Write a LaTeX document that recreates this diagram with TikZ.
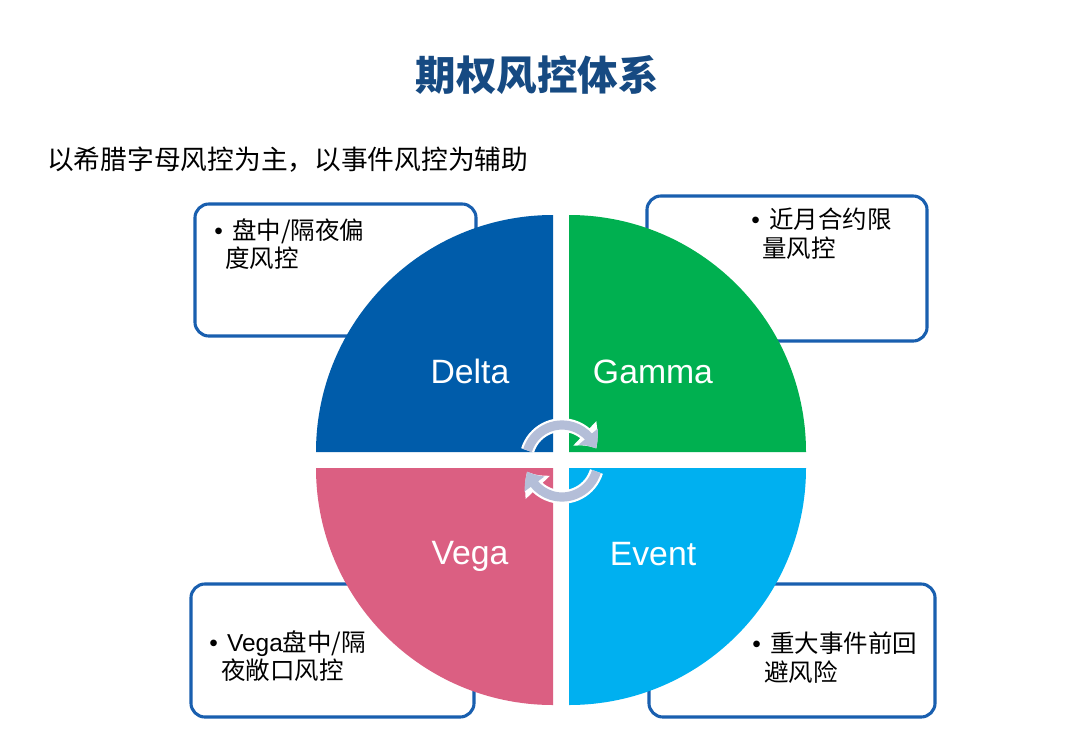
\documentclass[tikz,border=0pt]{standalone}
\usepackage{fontspec}
\setmainfont{Liberation Sans}
\newfontfamily\cjk{Noto Sans CJK SC}
\usepackage{tikz}
\usetikzlibrary{arrows.meta,bending}
\definecolor{titleblue}{RGB}{22,74,130}
\definecolor{boxblue}{RGB}{25,95,175}
\definecolor{deltablue}{RGB}{0,92,170}
\definecolor{gammagreen}{RGB}{0,176,80}
\definecolor{vegapink}{RGB}{219,95,130}
\definecolor{eventcyan}{RGB}{0,176,240}
\definecolor{cyclegray}{RGB}{180,190,216}
\newcommand\itembul{{\rmfamily\textbullet}\hspace{0.38em}}

\begin{document}
\begin{tikzpicture}[x=0.025cm,y=-0.025cm]
  % option risk control overview, pixel grid with y pointing down
  \tikzset{infobox/.style={draw=boxblue,line width=2.2pt,rounded corners=0.35cm,fill=white,inner sep=0pt},
    quadlbl/.style={text=white,inner sep=0pt,anchor=base,font=\fontsize{24}{28}\selectfont},
    itemtxt/.style={anchor=north west,inner sep=0pt,align=left,font=\cjk\fontsize{17.4}{20.5}\selectfont},
    cycwhite/.style={draw=white,line width=0.34cm,-{Triangle[width=0.8cm,length=0.48cm,bend]}},
    cycarrow/.style={draw=cyclegray,line width=0.23cm,-{Triangle[width=0.6cm,length=0.36cm,bend]}}}
  \useasboundingbox (0,0) rectangle (1080,737);
  \fill[white] (0,0) rectangle (1080,737);
  \node[font=\cjk\bfseries\fontsize{28.8}{32}\selectfont,text=titleblue] (title) at (537,75) {期权风控体系};
  \node[anchor=west,inner sep=0pt,font=\cjk\fontsize{19}{22}\selectfont] (subtitle) at (47,160) {以希腊字母风控为主，以事件风控为辅助};
  % the four text boxes sit behind the circle
  \node[infobox,minimum width=7.025cm,minimum height=3.3cm] (tlbox) at (335.5,270) {};
  \node[infobox,minimum width=7cm,minimum height=3.625cm] (trbox) at (787,268.5) {};
  \node[infobox,minimum width=7.075cm,minimum height=3.325cm] (blbox) at (332.5,650.5) {};
  \node[infobox,minimum width=7.15cm,minimum height=3.325cm] (brbox) at (792,650.5) {};
  \node[itemtxt] (tltxt) at (214,218) {\itembul 盘中/隔夜偏\\\hspace*{0.45em}度风控};
  \node[itemtxt] (trtxt) at (751,208) {\itembul 近月合约限\\\hspace*{0.45em}量风控};
  \node[itemtxt] (bltxt) at (209,630) {\itembul{\rmfamily Vega}盘中/隔\\\hspace*{0.5em}夜敞口风控};
  \node[itemtxt] (brtxt) at (752,632) {\itembul 重大事件前回\\\hspace*{0.5em}避风险};
  % quadrants
  \fill[deltablue] (553,452) -- (316,452) arc[start angle=180,end angle=270,radius=237] -- cycle;
  \fill[gammagreen] (569,452) -- (569,215) arc[start angle=270,end angle=360,radius=237] -- cycle;
  \fill[eventcyan] (569,468) -- (806,468) arc[start angle=0,end angle=90,radius=237] -- cycle;
  \fill[vegapink] (553,468) -- (553,705) arc[start angle=90,end angle=180,radius=237] -- cycle;
  \node[quadlbl] (delta) at (470,383) {Delta};
  \node[quadlbl] (gamma) at (653,383) {Gamma};
  \node[quadlbl] (vega) at (470,564) {Vega};
  \node[quadlbl] (event) at (653,565) {Event};
  % cycle arrows in the middle
  \coordinate (hub) at (562,461);
  \draw[cycwhite] ([shift={(197:36)}]hub) arc[start angle=197,end angle=340,radius=36];
  \draw[cycwhite] ([shift={(17:36)}]hub) arc[start angle=17,end angle=163,radius=36];
  \draw[cycarrow] ([shift={(197:36)}]hub) arc[start angle=197,end angle=340,radius=36];
  \draw[cycarrow] ([shift={(17:36)}]hub) arc[start angle=17,end angle=163,radius=36];
\end{tikzpicture}
\end{document}
